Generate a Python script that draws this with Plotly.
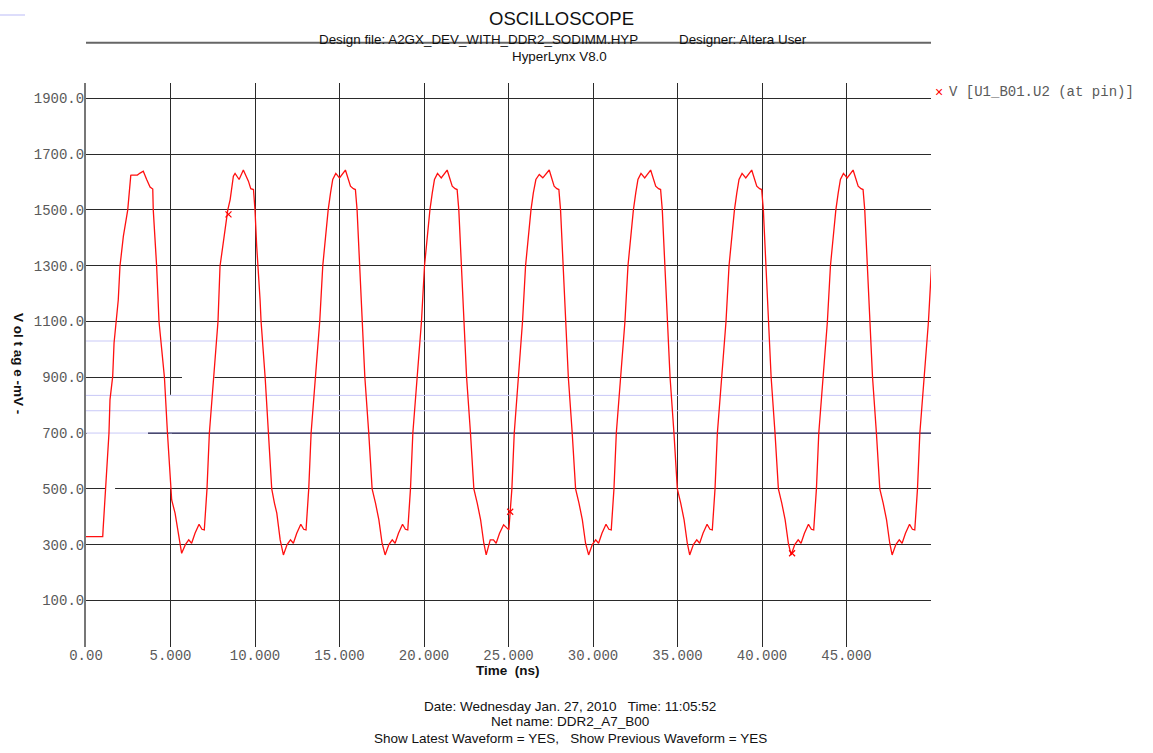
import plotly.graph_objects as go

# ---------------- data ----------------
time_ns = [
    # cycle 1
    0.00, 0.99, 1.01, 1.12, 1.23, 1.36, 1.42, 1.58, 1.66, 1.78, 1.91, 2.01, 2.21, 2.47, 2.55, 2.61, 2.65,
    2.70, 3.04, 3.20, 3.39, 3.59, 3.79, 3.95, 3.98, 4.18, 4.24, 4.32, 4.48, 4.64, 4.82, 5.01, 5.07, 5.27,
    5.47, 5.66,
    # cycle 2
    5.88, 6.08, 6.25, 6.45, 6.69, 6.86, 7.00, 7.06, 7.16, 7.30, 7.56, 7.81, 7.93, 8.13, 8.39, 8.53, 8.63,
    8.72, 8.82, 9.06, 9.31, 9.61, 9.75, 9.91, 10.00, 10.10, 10.30, 10.36, 10.60, 10.80, 10.99, 11.15,
    11.29, 11.49, 11.68,
    # cycle 3
    11.90, 12.10, 12.27, 12.47, 12.71, 12.88, 13.02, 13.08, 13.18, 13.32, 13.58, 13.83, 14.01, 14.17,
    14.33, 14.47, 14.60, 14.78, 15.00, 15.35, 15.65, 15.82, 15.94, 16.04, 16.18, 16.34, 16.50, 16.73,
    16.93, 17.13, 17.33, 17.52, 17.70,
    # cycle 4
    17.92, 18.12, 18.29, 18.49, 18.73, 18.90, 19.04, 19.10, 19.20, 19.34, 19.60, 19.85, 20.03, 20.19,
    20.35, 20.49, 20.62, 20.80, 21.02, 21.37, 21.67, 21.84, 21.96, 22.06, 22.20, 22.36, 22.52, 22.75,
    22.95, 23.15, 23.35, 23.54, 23.68,
    # cycle 5
    23.92, 24.11, 24.27, 24.47, 24.71, 24.91, 25.02, 25.10, 25.20, 25.34, 25.58, 25.83, 26.01, 26.17,
    26.33, 26.47, 26.62, 26.82, 27.03, 27.41, 27.70, 27.86, 27.98, 28.08, 28.22, 28.38, 28.54, 28.77,
    28.97, 29.17, 29.37, 29.56, 29.74,
    # cycle 6
    29.96, 30.16, 30.33, 30.53, 30.77, 30.94, 31.08, 31.14, 31.24, 31.38, 31.64, 31.89, 32.07, 32.23,
    32.39, 32.53, 32.66, 32.84, 33.06, 33.41, 33.71, 33.88, 34.00, 34.10, 34.24, 34.40, 34.56, 34.79,
    34.99, 35.19, 35.39, 35.58, 35.72,
    # cycle 7
    35.94, 36.14, 36.31, 36.51, 36.75, 36.92, 37.06, 37.12, 37.22, 37.36, 37.62, 37.87, 38.05, 38.21,
    38.37, 38.51, 38.64, 38.82, 39.04, 39.39, 39.69, 39.86, 39.98, 40.08, 40.22, 40.38, 40.54, 40.77,
    40.97, 41.17, 41.37, 41.56, 41.72,
    # cycle 8
    41.94, 42.14, 42.31, 42.51, 42.75, 42.92, 43.06, 43.12, 43.22, 43.36, 43.62, 43.87, 44.05, 44.21,
    44.37, 44.51, 44.64, 44.82, 45.04, 45.39, 45.69, 45.86, 45.98, 46.08, 46.22, 46.38, 46.54, 46.77,
    46.97, 47.17, 47.37, 47.56, 47.70,
    # final rising edge
    47.92, 48.12, 48.29, 48.49, 48.73, 48.90, 49.04, 49.10, 49.20, 49.34, 49.60, 49.85, 50.03,
]

voltage_mv = [
    # cycle 1
    329, 329, 353, 460, 568, 700, 820, 903, 1023, 1100, 1178, 1298, 1405, 1500, 1549, 1597, 1624,
    1625, 1625, 1632, 1639, 1609, 1582, 1575, 1500, 1298, 1178, 1100, 1000, 900, 700, 500, 460, 413,
    341, 269,
    # cycle 2
    300, 317, 305, 341, 373, 355, 353, 415, 500, 700, 900, 1100, 1298, 1382, 1500, 1537, 1573,
    1621, 1631, 1609, 1643, 1603, 1576, 1573, 1500, 1370, 1178, 1100, 900, 700, 500, 449,
    413, 317, 263,
    # cycle 3
    300, 317, 305, 341, 373, 355, 353, 415, 500, 700, 900, 1100, 1300, 1406,
    1500, 1561, 1609, 1631, 1615, 1643, 1585, 1576, 1573, 1500, 1300, 1100, 900, 700,
    500, 449, 389, 305, 263,
    # cycle 4
    300, 317, 305, 341, 373, 355, 353, 415, 500, 700, 900, 1100, 1300, 1406,
    1500, 1561, 1609, 1631, 1615, 1643, 1585, 1576, 1573, 1500, 1300, 1100, 900, 700,
    500, 449, 389, 305, 263,
    # cycle 5
    317, 317, 305, 341, 371, 359, 353, 418, 500, 700, 900, 1100, 1300, 1406,
    1500, 1561, 1609, 1627, 1615, 1643, 1585, 1576, 1573, 1500, 1300, 1100, 900, 700,
    500, 449, 389, 305, 263,
    # cycle 6
    300, 317, 305, 341, 373, 355, 353, 415, 500, 700, 900, 1100, 1300, 1406,
    1500, 1561, 1609, 1631, 1615, 1643, 1585, 1576, 1573, 1500, 1300, 1100, 900, 700,
    500, 449, 389, 305, 263,
    # cycle 7
    300, 317, 305, 341, 373, 355, 353, 415, 500, 700, 900, 1100, 1300, 1406,
    1500, 1561, 1609, 1631, 1615, 1643, 1585, 1576, 1573, 1500, 1300, 1100, 900, 700,
    500, 449, 389, 305, 263,
    # cycle 8
    300, 317, 305, 341, 373, 355, 353, 415, 500, 700, 900, 1100, 1300, 1406,
    1500, 1561, 1609, 1631, 1615, 1643, 1585, 1576, 1573, 1500, 1300, 1100, 900, 700,
    500, 449, 389, 305, 263,
    # final rising edge
    300, 317, 305, 341, 373, 355, 353, 415, 500, 700, 900, 1100, 1300,
]

marker_time_ns = [8.43, 25.10, 41.78]
marker_voltage_mv = [1484, 418, 269]

threshold_levels_mv = [1030, 835, 780, 700]
vref_level_mv = 700
vref_start_ns = 3.67

x_tick_vals = [0, 5, 10, 15, 20, 25, 30, 35, 40, 45, 50]
x_tick_text = ["0.00", "5.000", "10.000", "15.000", "20.000", "25.000", "30.000",
               "35.000", "40.000", "45.000", ""]
y_tick_vals = [100, 300, 500, 700, 900, 1100, 1300, 1500, 1700, 1900]
y_tick_text = ["100.0", "300.0", "500.0", "700.0", "900.0", "1100.0", "1300.0",
               "1500.0", "1700.0", "1900.0"]

x_range = [0, 50]
y_range = [-67, 1955]

legend_label = "V [U1_B01.U2 (at pin)]"

# ---------------- layout helpers ----------------
W, H = 1153, 753
PL, PR, PT, PB = 86, 931, 83, 647


def px(x):
    return (x - PL) / (PR - PL)


def py(y):
    return (PB - y) / (PB - PT)


MONO = "Liberation Mono, Courier New, monospace"
SANS = "Liberation Sans, Arial, sans-serif"

fig = go.Figure()

# threshold reference lines (light lavender)
for lvl in threshold_levels_mv:
    fig.add_trace(go.Scatter(x=x_range, y=[lvl, lvl], mode="lines",
                             line=dict(color="#c9c9f7", width=1), hoverinfo="skip",
                             showlegend=False))
# dark reference line at 700 mV
fig.add_trace(go.Scatter(x=[vref_start_ns, x_range[1]], y=[vref_level_mv, vref_level_mv],
                         mode="lines", line=dict(color="#1c1c4a", width=1),
                         hoverinfo="skip", showlegend=False))

# waveform
fig.add_trace(go.Scatter(x=time_ns, y=voltage_mv, mode="lines",
                         line=dict(color="#ff1010", width=1.3), showlegend=False,
                         name=legend_label))
# markers
fig.add_trace(go.Scatter(x=marker_time_ns, y=marker_voltage_mv, mode="markers",
                         marker=dict(symbol="x-thin", size=6, color="#ff0000",
                                     line=dict(color="#ff0000", width=1.2)),
                         showlegend=False))

fig.update_xaxes(range=x_range, tickvals=x_tick_vals, ticktext=x_tick_text,
                 showgrid=True, gridcolor="#2a2a2a", gridwidth=1,
                 zeroline=False, showline=False, ticks="", ticklabelstandoff=-2,
                 tickfont=dict(family=MONO, size=14, color="#5a5a5a"))
fig.update_yaxes(range=y_range, tickvals=y_tick_vals, ticktext=y_tick_text,
                 showgrid=True, gridcolor="#2a2a2a", gridwidth=1,
                 zeroline=False, showline=True, linecolor="#777777", linewidth=2,
                 ticks="", ticklabelstandoff=-3,
                 tickfont=dict(family=MONO, size=14, color="#5a5a5a"))

annotations = [
    dict(text="OSCILLOSCOPE", x=px(561), y=py(18.5), font=dict(family=SANS, size=18.5, color="#111")),
    dict(text="Design file: A2GX_DEV_WITH_DDR2_SODIMM.HYP", x=px(316.5), y=py(39), xanchor="left",
         font=dict(family=SANS, size=13.4, color="#111")),
    dict(text="Designer: Altera User", x=px(676.5), y=py(39), xanchor="left",
         font=dict(family=SANS, size=13.4, color="#111")),
    dict(text="HyperLynx V8.0", x=px(559), y=py(57), font=dict(family=SANS, size=13.4, color="#111")),
    dict(text="\u00d7", x=px(938.5), y=py(92.5), font=dict(family=SANS, size=14, color="#ff0000")),
    dict(text=legend_label, x=px(946.5), y=py(92.5), xanchor="left",
         font=dict(family=MONO, size=14, color="#5a5a5a")),
    dict(text="<b>V ol t ag e -mV -</b>", x=px(19), y=py(363), textangle=90,
         font=dict(family=SANS, size=13.5, color="#111")),
    dict(text="<b>Time \u00a0(ns)</b>", x=px(507.5), y=py(670), font=dict(family=SANS, size=13.5, color="#111")),
    dict(text="Date: Wednesday Jan. 27, 2010 \u00a0 Time: 11:05:52", x=px(570), y=py(706),
         font=dict(family=SANS, size=13.5, color="#111")),
    dict(text="Net name: DDR2_A7_B00", x=px(570), y=py(722), font=dict(family=SANS, size=13.5, color="#111")),
    dict(text="Show Latest Waveform = YES, \u00a0 Show Previous Waveform = YES", x=px(570), y=py(738),
         font=dict(family=SANS, size=13.5, color="#111")),
]
for a in annotations:
    a.setdefault("xanchor", "center")
    a.update(xref="paper", yref="paper", yanchor="middle", showarrow=False)

# erased pieces of the grid seen in the original screen capture
gaps = [
    dict(x0=5.68, x1=7.60, y0=900, y1=900),
    dict(x0=1.18, x1=1.72, y0=500, y1=500),
    dict(x0=5.0, x1=5.0, y0=504, y1=837),
    dict(x0=0.05, x1=3.67, y0=700, y1=700),
]
shapes = [
    dict(type="line", xref="paper", yref="paper", x0=px(86), x1=px(931), y0=py(42.7), y1=py(42.7),
         line=dict(color="#666666", width=2)),
    dict(type="line", xref="paper", yref="paper", x0=px(0), x1=px(25), y0=py(15), y1=py(15),
         line=dict(color="#d2d2fa", width=1.5)),
]
for g in gaps:
    shapes.append(dict(type="line", xref="x", yref="y", layer="between",
                       line=dict(color="white", width=3), **g))

fig.update_layout(width=W, height=H, margin=dict(l=PL, r=W - PR, t=PT, b=H - PB),
                  paper_bgcolor="white", plot_bgcolor="white",
                  annotations=annotations, shapes=shapes, showlegend=False)

fig.write_html("out.html")
